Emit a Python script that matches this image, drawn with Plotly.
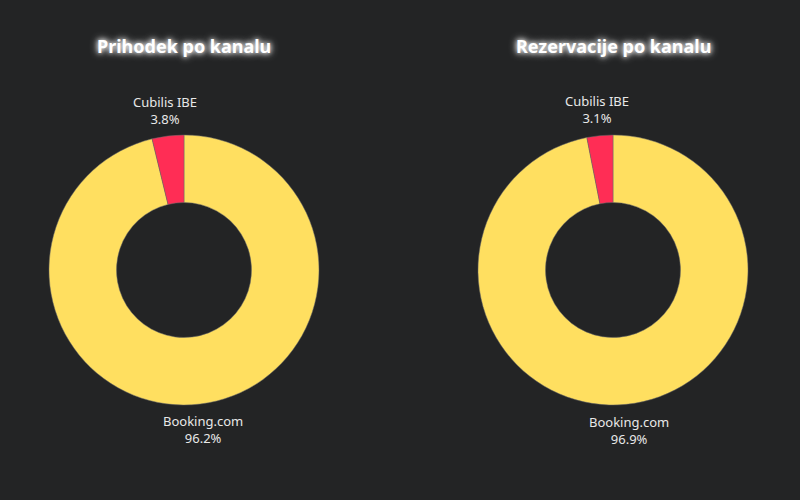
import math
import plotly.graph_objects as go

# Channel shares
channels = ["Booking.com", "Cubilis IBE"]
revenue_share = [96.2, 3.8]
booking_share = [96.9, 3.1]
titles = ["Prihodek po kanalu", "Rezervacije po kanalu"]

colors = ["#FFDF60", "#FF2D55"]
bg = "#232425"
W, H = 800, 500
R = 135          # pie radius, px
R_LABEL = 161    # label distance from centre, px
centers = [(184, 270), (613, 270)]

fig = go.Figure()
for vals, (cx, cy), title in zip([revenue_share, booking_share], centers, titles):
    fig.add_trace(go.Pie(
        labels=channels,
        values=vals,
        hole=0.5,
        sort=False,
        direction="clockwise",
        rotation=0,
        marker=dict(colors=colors, line=dict(color="#6a6a6a", width=0.5)),
        textinfo="none",
        domain=dict(x=[(cx - R) / W, (cx + R) / W], y=[1 - (cy + R) / H, 1 - (cy - R) / H]),
        showlegend=False,
        hoverinfo="label+percent",
    ))

    # outside labels centred on each slice's mid-angle
    total = sum(vals)
    cum = 0
    for lab, v in zip(channels, vals):
        mid = (cum + v / 2) / total
        cum += v
        ang = math.radians(mid * 360)
        lx = cx + R_LABEL * math.sin(ang)
        ly = cy - R_LABEL * math.cos(ang)
        fig.add_annotation(
            text=f"{lab}<br>{v / total * 100:.1f}%", x=lx / W, y=1 - ly / H,
            xref="paper", yref="paper", showarrow=False,
            xanchor="center", yanchor="middle",
            font=dict(size=13, color="#E8E8E8", family="Noto Sans"),
        )

    fig.add_annotation(
        text="<b>" + title + "</b>", x=cx / W, y=1 - 46 / H, xref="paper", yref="paper",
        showarrow=False, xanchor="center", yanchor="middle",
        font=dict(size=18, color="#FFFFFF", family="Noto Sans",
                  shadow="0px 0px 5px #FFFFFF, 0px 0px 9px #FFFFFF"),
    )

fig.update_layout(
    width=W, height=H,
    paper_bgcolor=bg, plot_bgcolor=bg,
    margin=dict(l=0, r=0, t=0, b=0),
)

fig.write_html(
    "out.html",
    config={"displayModeBar": False},
    post_script="document.body.style.margin='0';document.body.style.background='%s';" % bg,
)
